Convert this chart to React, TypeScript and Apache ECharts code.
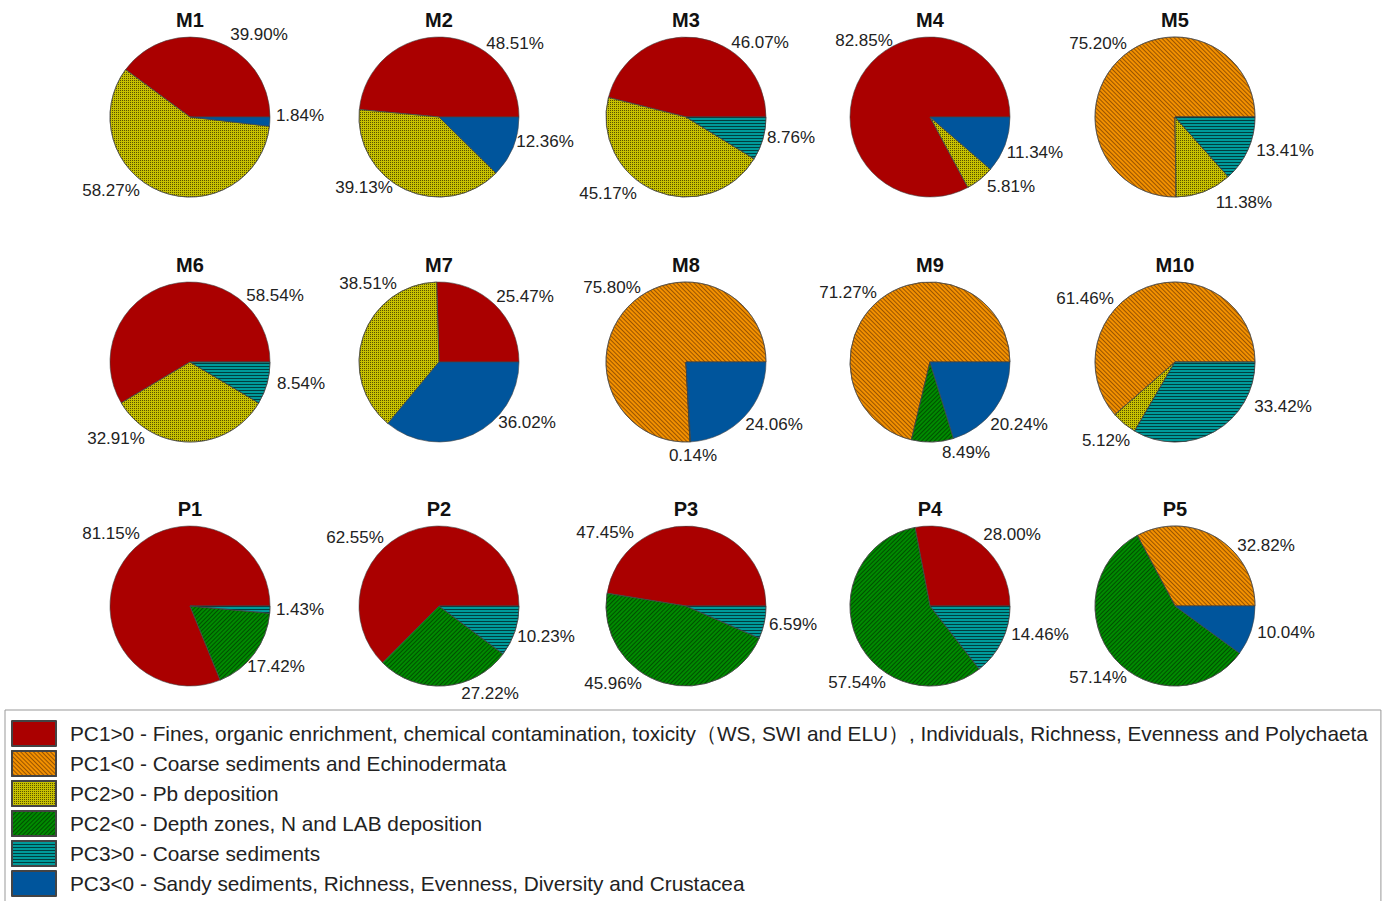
import React, { useEffect, useRef } from 'react';
import * as echarts from 'echarts';

const categories = [
  'PC1>0 - Fines, organic enrichment, chemical contamination, toxicity（WS, SWI and ELU）, Individuals, Richness, Evenness and Polychaeta',
  'PC1<0 - Coarse sediments and Echinodermata',
  'PC2>0 - Pb deposition',
  'PC2<0 - Depth zones, N and LAB deposition',
  'PC3>0 - Coarse sediments',
  'PC3<0 - Sandy sediments, Richness, Evenness, Diversity and Crustacea',
];

const stations = ['M1', 'M2', 'M3', 'M4', 'M5', 'M6', 'M7', 'M8', 'M9', 'M10', 'P1', 'P2', 'P3', 'P4', 'P5'];

// category index of each slice (counter-clockwise from 3 o'clock)
const sliceCategory = [
  [0, 2, 5], [0, 2, 5], [0, 2, 4], [0, 2, 5], [1, 2, 4],
  [0, 2, 4], [0, 2, 5], [1, 3, 5], [1, 3, 5], [1, 2, 4],
  [0, 3, 4], [0, 3, 4], [0, 3, 4], [0, 3, 4], [1, 3, 5],
];

// percentage of each slice
const sliceValues = [
  [39.90, 58.27, 1.84], [48.51, 39.13, 12.36], [46.07, 45.17, 8.76], [82.85, 5.81, 11.34], [75.20, 11.38, 13.41],
  [58.54, 32.91, 8.54], [25.47, 38.51, 36.02], [75.80, 0.14, 24.06], [71.27, 8.49, 20.24], [61.46, 5.12, 33.42],
  [81.15, 17.42, 1.43], [62.55, 27.22, 10.23], [47.45, 45.96, 6.59], [28.00, 57.54, 14.46], [32.82, 57.14, 10.04],
];

// label placement (offset of label centre from pie centre, px) – annotation layout only
const labelOffsets = [
  [[69, -83], [-79, 73], [110, -2]],
  [[76, -74], [-75, 70], [106, 24]],
  [[74, -75], [-78, 76], [105, 20]],
  [[-66, -77], [81, 69], [105, 35]],
  [[-77, -74], [69, 85], [110, 33]],
  [[85, -67], [-74, 76], [111, 21]],
  [[86, -66], [-71, -79], [88, 60]],
  [[-74, -75], [7, 93], [88, 62]],
  [[-82, -70], [36, 90], [89, 62]],
  [[-90, -64], [-69, 78], [108, 44]],
  [[-79, -73], [86, 60], [110, 3]],
  [[-84, -69], [51, 87], [107, 30]],
  [[-81, -74], [-73, 77], [107, 18]],
  [[82, -72], [-73, 76], [110, 28]],
  [[91, -61], [-77, 71], [111, 26]],
];

const colors = ['#AA0000', '#F29000', '#C6C000', '#008A00', '#009A9A', '#00559C'];

const decals: any[] = [
  null,
  { symbol: 'rect', symbolSize: 1, dashArrayX: [1, 0], dashArrayY: [1, 2], rotation: Math.PI / 4, color: 'rgba(80,35,0,0.55)' },
  { symbol: 'rect', symbolSize: 1, dashArrayX: [1, 1], dashArrayY: [1, 1], rotation: 0, color: 'rgba(60,55,0,0.8)' },
  { symbol: 'rect', symbolSize: 1, dashArrayX: [1, 0], dashArrayY: [1, 2], rotation: -Math.PI / 4, color: 'rgba(0,30,0,0.55)' },
  { symbol: 'rect', symbolSize: 1, dashArrayX: [1, 0], dashArrayY: [1, 2], rotation: 0, color: 'rgba(0,40,40,0.8)' },
  null,
];

const colX = [190, 439, 686, 930, 1175];
const rowY = [117, 362, 606];
const FONT = 'Liberation Sans, Arial, Helvetica, sans-serif';

export default function App() {
  const ref = useRef<HTMLDivElement>(null);
  useEffect(() => {
    if (!ref.current) return;
    const chart = echarts.init(ref.current, null, { renderer: 'svg' });
    const series: any[] = stations.map((name, i) => {
      const cx = colX[i % 5];
      const cy = rowY[Math.floor(i / 5)];
      return {
        type: 'pie',
        name,
        center: [cx, cy],
        radius: 80,
        startAngle: 0,
        clockwise: false,
        avoidLabelOverlap: false,
        silent: true,
        label: {
          show: true,
          position: 'outside',
          fontSize: 17,
          color: '#222',
          fontFamily: FONT,
          formatter: (p: any) => p.value.toFixed(2) + '%',
        },
        labelLine: { show: false, length: 6, length2: 0 },
        labelLayout: (p: any) => {
          const off = labelOffsets[i][p.dataIndex];
          return { x: cx + off[0], y: cy + off[1], align: 'center', verticalAlign: 'middle' };
        },
        itemStyle: { borderColor: '#444', borderWidth: 0.6 },
        data: sliceValues[i].map((v, k) => {
          const c = sliceCategory[i][k];
          const it: any = { name: categories[c], value: v, itemStyle: { color: colors[c] } };
          if (decals[c]) it.itemStyle.decal = decals[c];
          return it;
        }),
      };
    });
    const titles = stations.map((name, i) => ({
      text: name,
      left: colX[i % 5],
      top: rowY[Math.floor(i / 5)] - 107,
      textAlign: 'center',
      padding: 0,
      textStyle: { fontSize: 20, fontWeight: 'bold', color: '#111', fontFamily: FONT },
    }));
    chart.setOption({
      animation: false,
      textStyle: { fontFamily: FONT },
      title: titles,
      legend: {
        data: categories,
        orient: 'vertical',
        left: 5,
        top: 710,
        height: 200,
        padding: [10, 13, 6, 6],
        borderColor: '#999',
        borderWidth: 1,
        itemWidth: 44,
        itemHeight: 25,
        itemGap: 3,
        icon: 'rect',
        selectedMode: false,
        formatter: (n: string) => `{t|${n}}`,
        textStyle: {
          color: '#222',
          fontSize: 20.8,
          lineHeight: 24,
          fontFamily: FONT,
          rich: { t: { fontSize: 20.8, lineHeight: 24, color: '#222', fontFamily: FONT, padding: [0, 0, 0, 9] } },
        },
      },
      series,
    });
    return () => chart.dispose();
  }, []);
  return <div ref={ref} style={{ position: 'fixed', left: 0, top: 0, width: 1392, height: 901, background: '#fff' }} />;
}
